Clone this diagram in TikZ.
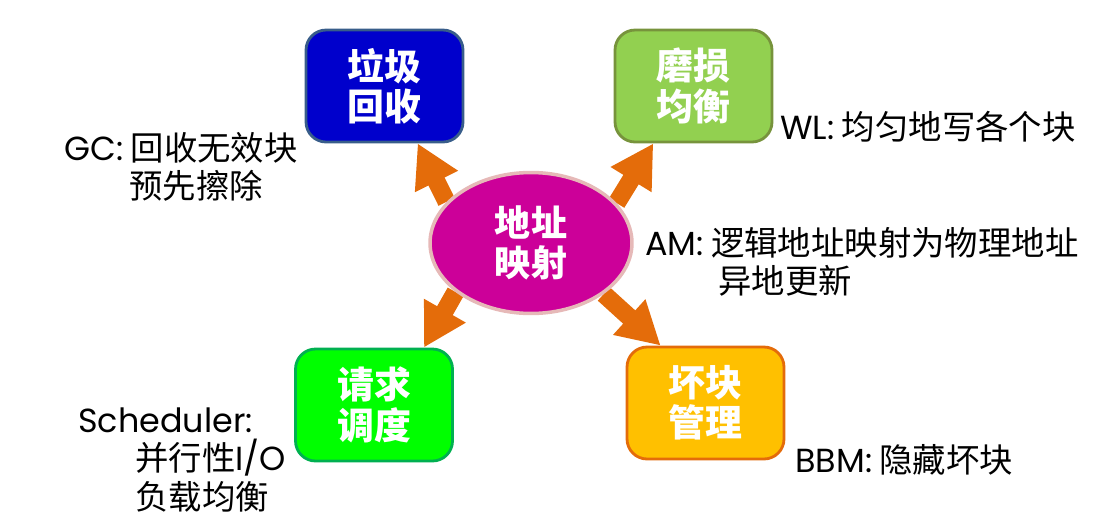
\documentclass[tikz,border=0pt]{standalone}
\usepackage{fontspec}
\setmainfont{Noto Sans CJK SC}
\newfontfamily\latfont{Poppins}
\usetikzlibrary{arrows.meta,shapes.geometric,backgrounds}
\definecolor{FtlBlue}{RGB}{0,0,204}
\definecolor{FtlBlueLine}{RGB}{56,93,138}
\definecolor{FtlLeaf}{RGB}{146,208,80}
\definecolor{FtlLeafLine}{RGB}{119,147,60}
\definecolor{FtlLime}{RGB}{0,255,0}
\definecolor{FtlLimeLine}{RGB}{0,176,80}
\definecolor{FtlGold}{RGB}{255,192,0}
\definecolor{FtlGoldLine}{RGB}{228,108,10}
\definecolor{FtlMagenta}{RGB}{204,0,153}
\definecolor{FtlPink}{RGB}{230,185,184}
\definecolor{FtlArrow}{RGB}{228,108,10}

\begin{document}
\begin{tikzpicture}[x=0.02cm,y=-0.02cm]
    \tikzset{module/.style={draw,line width=1.6pt,rounded corners=0.4cm,minimum width=3.14cm,minimum height=2.24cm,align=center,text=white,font=\fontsize{21}{23}\selectfont\bfseries},
      note/.style={anchor=west,inner sep=0pt,align=left,font=\fontsize{19}{22}\selectfont},
      push/.style={-{Triangle[width=0.9cm,length=0.85cm]},line width=0.36cm,draw=FtlArrow}}
    \useasboundingbox (0,0) rectangle (1119,524);
    % centre
    \node[ellipse,draw=FtlPink,line width=2pt,fill=FtlMagenta,minimum width=4.04cm,minimum height=2.82cm,inner sep=0pt,align=center,text=white,font=\fontsize{20.5}{23}\selectfont\bfseries] (am) at (531,243) {地址\\映射};
    % four modules
    \node[module,fill=FtlBlue,draw=FtlBlueLine] (gc) at (384.5,86) {垃圾\\回收};
    \node[module,fill=FtlLeaf,draw=FtlLeafLine] (wl) at (693.5,86) {磨损\\均衡};
    \node[module,fill=FtlLime,draw=FtlLimeLine] (sched) at (374,405) {请求\\调度};
    \node[module,fill=FtlGold,draw=FtlGoldLine] (bbm) at (705.5,403) {坏块\\管理};
    % notes
    \node[note] (gcnote) at (64,167) {{\latfont GC:} 回收无效块\\\hspace*{1.3cm}预先擦除};
    \node[note] (wlnote) at (780,127) {{\latfont WL:} 均匀地写各个块};
    \node[note] (amnote) at (645,262) {{\latfont AM:} 逻辑地址映射为物理地址\\\hspace*{1.46cm}异地更新};
    \node[note] (schednote) at (78,460) {{\latfont Scheduler:}\\\hspace*{1.14cm}并行性{\latfont I/O}\\\hspace*{1.14cm}负载均衡};
    \node[note] (bbmnote) at (795,460) {{\latfont BBM:} 隐藏坏块};
    \begin{scope}[on background layer]
      \draw[push] (am.154) -- (gc.-60);
      \draw[push] (am.25) -- (wl.-125);
      \draw[push] (am.-147) -- (sched.49);
      \draw[push] (am.-35) -- (bbm.128);
    \end{scope}
\end{tikzpicture}
\end{document}
